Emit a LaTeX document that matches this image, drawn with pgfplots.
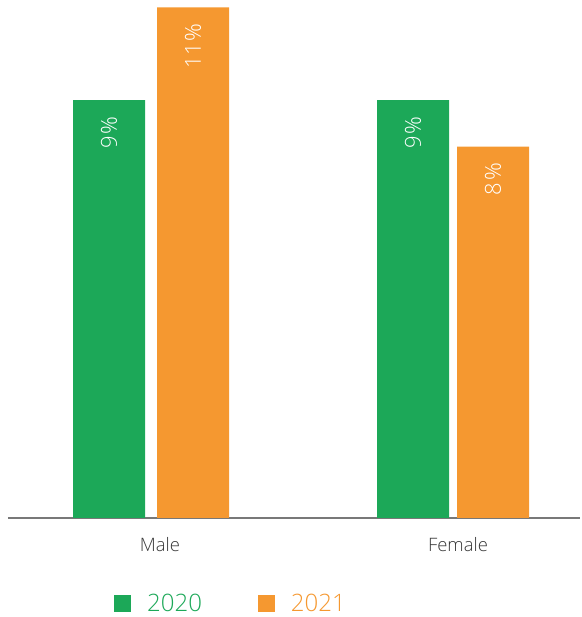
\documentclass[border=0pt]{standalone}
\usepackage{fontspec}
\setmainfont{Open Sans}[UprightFont=* Light]
\usepackage{pgfplots}
\pgfplotsset{compat=1.18}

\definecolor{g20}{RGB}{28,168,88}
\definecolor{o21}{RGB}{245,152,48}
\definecolor{axisgray}{RGB}{120,120,120}
\definecolor{labelgray}{RGB}{55,55,55}

\begin{document}
\begin{tikzpicture}
\useasboundingbox (0,0) rectangle (581pt,617pt);
\begin{axis}[
  at={(8pt,99pt)}, anchor=south west,
  scale only axis, width=572pt, height=518pt,
  xmin=8, xmax=580, ymin=0, ymax=11.16,
  axis x line*=bottom, axis y line=none,
  x axis line style={draw=axisgray, line width=1.6pt, -},
  xtick={160,458}, xticklabels={Male,Female},
  major tick length=0pt,
  xticklabel style={anchor=base, yshift=-34pt, text=labelgray,
    font=\fontsize{18.5}{22}\selectfont},
  ytick=\empty,
  /pgf/number format/assume math mode=true,
  ybar, bar width=72, bar shift=0pt,
  nodes near coords={\pgfmathprintnumber{\pgfplotspointmeta}\kern1.5pt\%},
  every node near coord/.style={yshift=-13pt, rotate=90, anchor=east,
    text=white, font=\fontsize{22}{26}\selectfont},
  legend columns=-1,
  legend style={at={(0.1853,-0.166)}, anchor=west, draw=none, fill=none,
    inner sep=0pt, font=\fontsize{24}{28}\selectfont,
    /tikz/every even column/.append style={column sep=54pt}},
  legend image code/.code={\fill[#1] (0pt,-8.5pt) rectangle (17pt,8.5pt);
    \path (31pt,0pt);},
  clip=false,
]
\addplot[draw=none, fill=g20] coordinates {(109,9) (413,9)};
\addlegendentry{\textcolor{g20}{2020}}
\addplot[draw=none, fill=o21] coordinates {(193,11) (493,8)};
\addlegendentry{\textcolor{o21}{2021}}
\end{axis}
\end{tikzpicture}
\end{document}
